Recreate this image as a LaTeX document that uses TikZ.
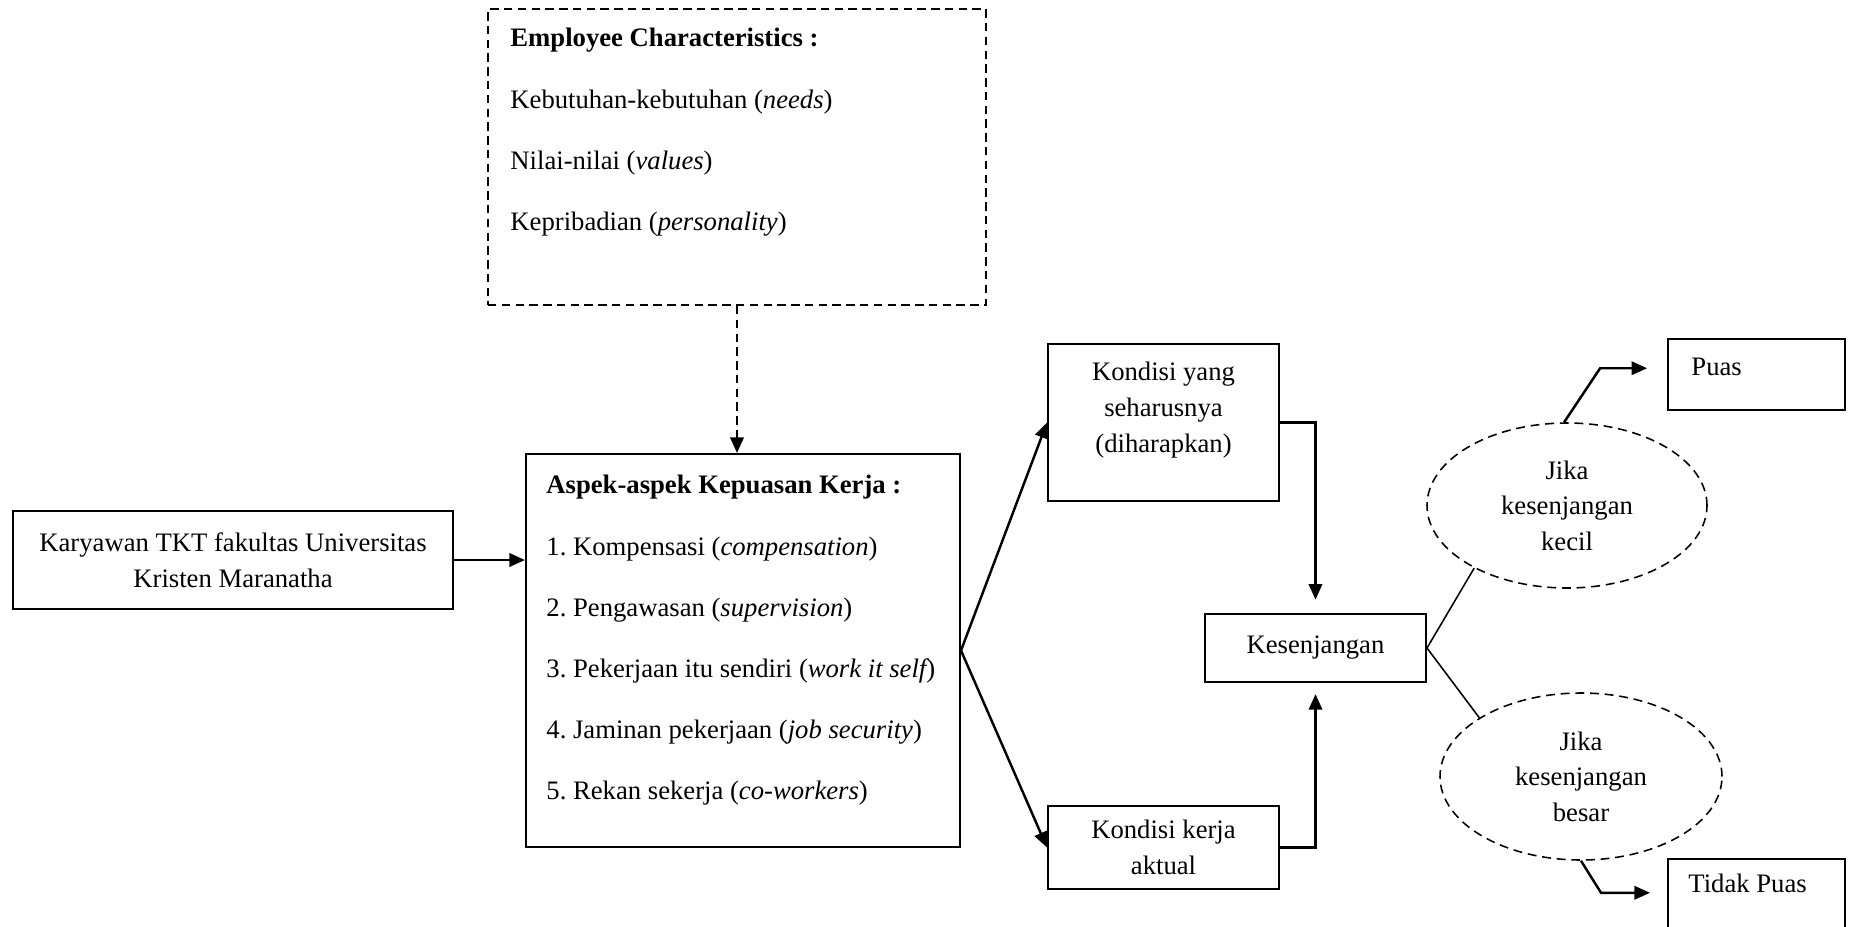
\documentclass[tikz,border=0pt]{standalone}
\usepackage{fontspec}
\setmainfont{Liberation Serif}
\usetikzlibrary{positioning,shapes.geometric,arrows.meta}
\frenchspacing

\tikzset{
  box/.style={draw, line width=0.9pt, inner sep=0pt, align=center},
  dashbox/.style={box, dash pattern=on 3.8pt off 2.4pt},
  oval/.style={draw, ellipse, line width=0.7pt, dash pattern=on 4pt off 2.6pt, inner sep=0pt, align=center},
  listtext/.style={inner sep=0pt, anchor=north west, align=left, font=\fontsize{12pt}{27.5pt}\selectfont},
  boxtext/.style={inner sep=0pt, align=center},
  plaintext/.style={inner sep=0pt, anchor=west},
  arr/.style={line width=1.1pt, -{Triangle[length=7pt,width=6pt]}},
  link/.style={line width=0.7pt},
}

\begin{document}
\begin{tikzpicture}[x=0.45pt, y=-0.45pt, font=\fontsize{12pt}{16pt}\selectfont]
    \useasboundingbox (0,0) rectangle (1854,927);

    % left part
    \node[dashbox, minimum width=224.1pt, minimum height=133.2pt] (emp) at (737,157) {};
    \node[listtext] (empText) at (510,28) {\textbf{Employee Characteristics :}\\Kebutuhan-kebutuhan (\textit{needs})\\Nilai-nilai (\textit{values})\\Kepribadian (\textit{personality})};
    \node[box, minimum width=195.3pt, minimum height=176.85pt] (asp) at (743,650.5) {};
    \node[listtext] (aspText) at (546,475) {\textbf{Aspek-aspek Kepuasan Kerja :}\\1. Kompensasi (\textit{compensation})\\2. Pengawasan (\textit{supervision})\\3. Pekerjaan itu sendiri (\textit{work it self\nocorr})\\4. Jaminan pekerjaan (\textit{job security})\\5. Rekan sekerja (\textit{co-workers})};
    \node[box, minimum width=198pt, minimum height=44.1pt] (kar) at (233,560) {Karyawan TKT fakultas Universitas\\Kristen Maranatha};

    % kondisi
    \node[box, minimum width=103.95pt, minimum height=70.65pt] (kyang) at (1163.5,422.5) {};
    \node[boxtext, anchor=north] (kyangText) at (1163.5,362) {Kondisi yang\\seharusnya\\(diharapkan)};
    \node[box, minimum width=103.95pt, minimum height=37.35pt] (aktual) at (1163.5,847.5) {Kondisi kerja\\aktual};
    \node[box, minimum width=99.45pt, minimum height=30.6pt] (kes) at (1315.5,648) {Kesenjangan};

    % hasil
    \node[oval, minimum width=126pt, minimum height=74.25pt] (kecil) at (1567,505.5) {Jika\\kesenjangan\\kecil};
    \node[oval, minimum width=126.9pt, minimum height=75.15pt] (besar) at (1581,776.5) {Jika\\kesenjangan\\besar};
    \node[box, minimum width=79.65pt, minimum height=31.95pt] (puas) at (1756.5,374.5) {};
    \node[plaintext] (puasText) at (1691,367) {Puas};
    \node[box, minimum width=79.65pt, minimum height=32.4pt] (tidak) at (1756.5,895) {};
    \node[plaintext] (tidakText) at (1688,883) {Tidak Puas};

    % connectors
    \draw[arr] (kar.east) -- (kar.east -| asp.west);
    \draw[arr, dash pattern=on 3.8pt off 2.4pt] (emp.south) -- (emp.south |- asp.north);
    \draw[arr] (asp.east) -- (kyang.west);
    \draw[arr] (asp.east) -- (aktual.west);
    \draw[arr, shorten >=6pt] (kyang.east) -| (kes.north);
    \draw[arr, shorten >=5pt] (aktual.east) -| (kes.south);
    \draw[link] (kes.east) -- (kecil.214);
    \draw[link] (kes.east) -- (besar.150);
    \draw[arr] (kecil.92) -- ++(36,-54) -- ++(47,0);
    \draw[arr] (besar.south) -- ++(20,32) -- ++(49,0);
\end{tikzpicture}
\end{document}
